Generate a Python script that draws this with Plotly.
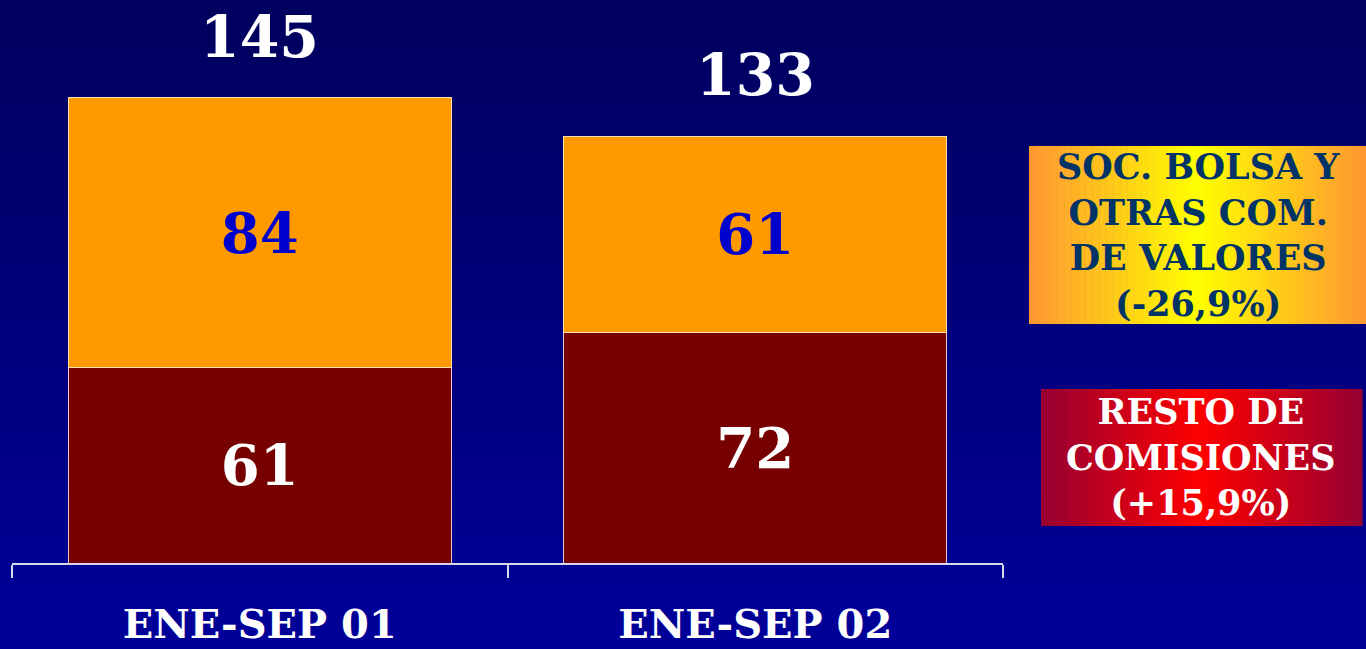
# Purpose: Stacked bar chart of commissions (ENE-SEP 01 vs ENE-SEP 02)

# Imports
import plotly.graph_objects as go

# Globals

periods = ["ENE-SEP 01", "ENE-SEP 02"]
resto_comisiones = [61, 72]
soc_bolsa = [84, 61]

soc_bolsa_label = ["SOC. BOLSA Y", "OTRAS COM.", "DE VALORES", "(-26,9%)"]
resto_label = ["RESTO DE", "COMISIONES", "(+15,9%)"]

FONT = "DejaVu Serif"
W = 1366
H = 649


def mix(c1, c2, t):
	return "rgb({},{},{})".format(*[round(a + (b - a) * t) for a, b in zip(c1, c2)])


def gradient_box(x0, x1, y0, y1, edge, centre, steps=48):
	# Horizontal gradient (edge -> centre -> edge) made of thin strips, pixel coords
	shapes = []
	step = (x1 - x0) / steps
	for k in range(steps):
		t = 1 - abs((k + 0.5) / steps - 0.5) * 2
		shapes.append(dict(
			type="rect", xref="paper", yref="paper", layer="below",
			x0=(x0 + k * step) / W, x1=min(x0 + (k + 1) * step + 0.6, W) / W,
			y0=1 - y1 / H, y1=1 - y0 / H,
			line=dict(width=0), fillcolor=mix(edge, centre, t)
		))
	return shapes


def main():

	# 1. Background: vertical navy gradient
	shapes = []
	bands = 60
	for k in range(bands):
		shapes.append(dict(
			type="rect", xref="paper", yref="paper", layer="below",
			x0=0, x1=1, y0=max(1 - (k + 1) / bands - 0.002, 0), y1=1 - k / bands,
			line=dict(width=0), fillcolor=mix((0, 0, 94), (0, 0, 153), k / (bands - 1))
		))

	# 2. Legend boxes
	shapes += gradient_box(1029, 1366, 146, 324, (255, 150, 50), (255, 255, 0))
	shapes += gradient_box(1041, 1362, 389, 526, (150, 0, 50), (255, 0, 0))

	# 3. Bars
	fig = go.Figure()
	fig.add_trace(go.Bar(
		x=periods, y=resto_comisiones, name="RESTO DE COMISIONES",
		marker=dict(color="#770000", line=dict(color="#E8C8C8", width=1)),
		text=resto_comisiones, textposition="inside", insidetextanchor="middle",
		textfont=dict(family=FONT, size=56, color="white", weight="bold"),
		textangle=0
	))
	fig.add_trace(go.Bar(
		x=periods, y=soc_bolsa, name="SOC. BOLSA",
		marker=dict(color="#FF9900", line=dict(color="#FFE0B0", width=1)),
		text=soc_bolsa, textposition="inside", insidetextanchor="middle",
		textfont=dict(family=FONT, size=56, color="#0000CC", weight="bold"),
		textangle=0
	))

	# 4. Annotations: totals and legend text
	annotations = []
	for p, a, b in zip(periods, resto_comisiones, soc_bolsa):
		annotations.append(dict(
			x=p, y=a + b, xref="x", yref="y", text=str(a + b), showarrow=False,
			yanchor="bottom", yshift=26,
			font=dict(family=FONT, size=57, color="white", weight="bold")
		))
	annotations.append(dict(
		x=1198 / W, y=1 - 235 / H, xref="paper", yref="paper",
		text="<br>".join(soc_bolsa_label), showarrow=False,
		xanchor="center", yanchor="middle",
		font=dict(family=FONT, size=35, color="#003366", weight="bold")
	))
	annotations.append(dict(
		x=1201 / W, y=1 - 457 / H, xref="paper", yref="paper",
		text="<br>".join(resto_label), showarrow=False,
		xanchor="center", yanchor="middle",
		font=dict(family=FONT, size=35, color="white", weight="bold")
	))

	# 5. Layout
	fig.update_layout(
		width=W, height=H,
		barmode="stack", bargap=0.227,
		showlegend=False,
		margin=dict(l=0, r=0, t=0, b=0),
		paper_bgcolor="#000080", plot_bgcolor="rgba(0,0,0,0)",
		shapes=shapes, annotations=annotations,
		xaxis=dict(
			domain=[12 / W, 1003 / W], automargin=False,
			showline=True, linecolor="#D8D8E8", linewidth=2,
			ticks="outside", tickson="boundaries", ticklen=13, tickwidth=2, tickcolor="#D8D8E8",
			showgrid=False, ticklabelstandoff=25,
			tickfont=dict(family=FONT, size=40, color="white", weight="bold")
		),
		yaxis=dict(
			domain=[86 / H, 1], range=[0, 563 / 3.207], automargin=False,
			visible=False, showgrid=False
		)
	)

	fig.write_html(
		"out.html",
		config={"displayModeBar": False},
		post_script="document.body.style.margin='0';document.body.style.background='#000080';"
	)


if "__main__" == __name__:
	main()
